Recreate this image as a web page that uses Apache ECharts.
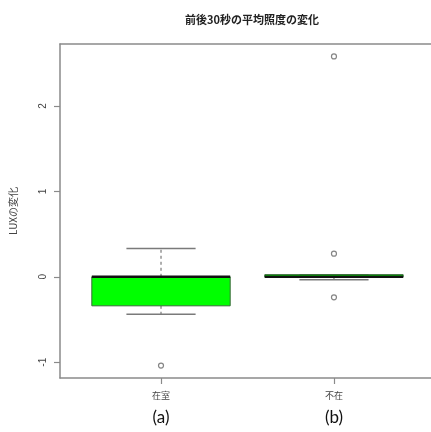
<!DOCTYPE html>
<html><head><meta charset="utf-8">
<script src="https://cdn.jsdelivr.net/npm/echarts@6/dist/echarts.min.js"></script>
<style>html,body{margin:0;padding:0;background:#fff}#c{width:431px;height:432px}</style>
</head><body><div id="c"></div>
<script>
var titleText = '前後30秒の平均照度の変化';
var yName = 'LUXの変化';
var categories = ['在室', '不在'];
var subLabels = ['(a)', '(b)'];
var catPos = [1, 2];
// [lowerWhisker, Q1, median, Q3, upperWhisker]
var statsA = [-0.44, -0.34, 0.0, 0.0, 0.33];
var statsB = [-0.035, -0.005, 0.0, 0.025, 0.025];
var outliersA = [-1.04];
var outliersB = [2.58, 0.27, -0.24];
var yTicks = [-1, 0, 1, 2];

var boxData = [[catPos[0]].concat(statsA), [catPos[1]].concat(statsB)];
var outData = [];
outliersA.forEach(function (v) { outData.push([catPos[0], v]); });
outliersB.forEach(function (v) { outData.push([catPos[1], v]); });

var chart = echarts.init(document.getElementById('c'));
var FONT = '"Liberation Sans","Noto Sans CJK JP",sans-serif';
var AX = '#8a8a8a';

function renderBox(params, api) {
  var x = api.value(0);
  var lo = api.coord([x, api.value(1)]);
  var q1 = api.coord([x, api.value(2)]);
  var md = api.coord([x, api.value(3)]);
  var q3 = api.coord([x, api.value(4)]);
  var hi = api.coord([x, api.value(5)]);
  var hw = api.size([0.8, 0])[0] / 2;
  var cw = hw / 2;
  var cx = lo[0];
  var gray = '#7a7a7a';
  var children = [];
  children.push({ type: 'line', shape: { x1: cx, y1: q3[1], x2: cx, y2: hi[1] }, style: { stroke: gray, lineWidth: 1.2, lineDash: [3, 3] } });
  children.push({ type: 'line', shape: { x1: cx, y1: q1[1], x2: cx, y2: lo[1] }, style: { stroke: gray, lineWidth: 1.2, lineDash: [3, 3] } });
  children.push({ type: 'line', shape: { x1: cx - cw, y1: hi[1], x2: cx + cw, y2: hi[1] }, style: { stroke: gray, lineWidth: 1.5 } });
  children.push({ type: 'line', shape: { x1: cx - cw, y1: lo[1], x2: cx + cw, y2: lo[1] }, style: { stroke: gray, lineWidth: 1.5 } });
  children.push({ type: 'rect', shape: { x: cx - hw, y: q3[1], width: hw * 2, height: Math.max(q1[1] - q3[1], 2) }, style: { fill: '#00ff00', stroke: '#3a6b3a', lineWidth: 1 } });
  children.push({ type: 'line', shape: { x1: cx - hw, y1: md[1], x2: cx + hw, y2: md[1] }, style: { stroke: '#111', lineWidth: 2.5 } });
  return { type: 'group', children: children };
}

chart.setOption({
  animation: false,
  backgroundColor: '#fff',
  title: {
    text: titleText, left: 247, top: 9, textAlign: 'center',
    textStyle: { fontSize: 11, fontWeight: 'bold', color: '#222', fontFamily: '"Noto Sans CJK JP",sans-serif' }
  },
  grid: { left: 60, top: 44, right: 0, bottom: 54, show: false },
  xAxis: [{
    type: 'value', min: 0.416, max: 2.561, position: 'bottom',
    splitLine: { show: false },
    axisLine: { show: true, onZero: false, lineStyle: { color: AX, width: 1.5 } },
    axisTick: { show: true, customValues: catPos, length: 6, lineStyle: { color: AX, width: 1.2 } },
    axisLabel: {
      show: true, customValues: catPos, margin: 11,
      formatter: function (v) {
        var i = catPos.indexOf(Math.round(v));
        return '{c|' + categories[i] + '}\n{s|' + subLabels[i] + '}';
      },
      rich: {
        c: { fontSize: 9, color: '#444', fontFamily: '"Noto Sans CJK JP",sans-serif', lineHeight: 14 },
        s: { fontSize: 17, color: '#111', fontFamily: 'Lato,"Open Sans",sans-serif', lineHeight: 30 }
      }
    }
  }, {
    type: 'value', min: 0.416, max: 2.561, position: 'top',
    splitLine: { show: false },
    axisLine: { show: true, onZero: false, lineStyle: { color: AX, width: 1.5 } },
    axisTick: { show: false }, axisLabel: { show: false }
  }],
  yAxis: {
    type: 'value', min: -1.185, max: 2.725,
    name: yName, nameLocation: 'middle', nameGap: 42, nameRotate: 90,
    nameTextStyle: { fontSize: 10, color: '#444', fontFamily: '"Noto Sans CJK JP",sans-serif' },
    splitLine: { show: false },
    axisLine: { show: true, onZero: false, lineStyle: { color: AX, width: 1.5 } },
    axisTick: { show: true, customValues: yTicks, length: 6, lineStyle: { color: AX, width: 1.2 } },
    axisLabel: { show: true, customValues: yTicks, rotate: 90, margin: 12, fontSize: 10, color: '#444', fontFamily: FONT }
  },
  series: [
    { type: 'custom', renderItem: renderBox, data: boxData, encode: { x: 0, y: [1, 2, 3, 4, 5] }, z: 2 },
    { type: 'scatter', xAxisIndex: 0, yAxisIndex: 0, data: outData, symbol: 'circle', symbolSize: 5, itemStyle: { color: '#ffffff', borderColor: '#666666', borderWidth: 1.2 }, z: 3 }
  ]
});
</script></body></html>
